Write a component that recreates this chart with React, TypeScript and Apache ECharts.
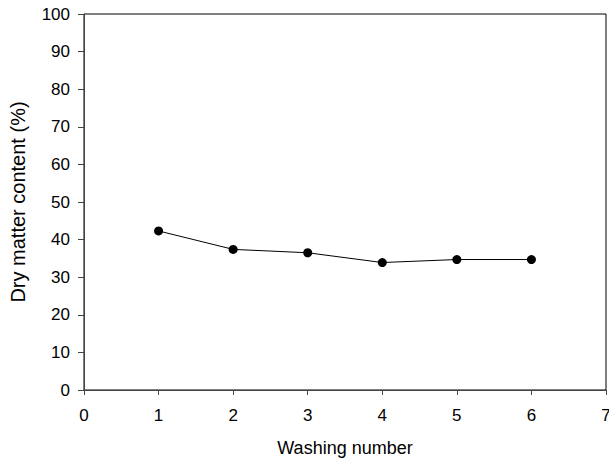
import React, { useEffect, useRef } from "react";
import * as echarts from "echarts";

const washingNumbers = [1, 2, 3, 4, 5, 6];
const dryMatter = [42.3, 37.4, 36.5, 33.9, 34.7, 34.7];
const xTicks = [0, 1, 2, 3, 4, 5, 6, 7];
const yTicks = [0, 10, 20, 30, 40, 50, 60, 70, 80, 90, 100];

export default function App() {
  const ref = useRef<HTMLDivElement>(null);
  useEffect(() => {
    document.body.style.margin = "0";
    if (!ref.current) return;
    const chart = echarts.init(ref.current, null, { renderer: "svg" });
    const font = "'Liberation Sans', Arial, sans-serif";
    chart.setOption({
      animation: false,
      backgroundColor: "#fff",
      grid: {
        left: 84,
        right: 3,
        top: 14,
        bottom: 68,
        outerBoundsMode: "none",
        containLabel: false,
        show: true,
        borderColor: "#000",
        borderWidth: 1,
        backgroundColor: "transparent",
      },
      xAxis: {
        type: "value",
        min: xTicks[0],
        max: xTicks[xTicks.length - 1],
        interval: 1,
        name: "Washing number",
        nameLocation: "middle",
        nameGap: 49,
        nameTextStyle: { fontFamily: font, fontSize: 18, color: "#000" },
        axisLine: { show: true, lineStyle: { color: "#444", width: 1 } },
        axisTick: { show: true, inside: false, length: 5, lineStyle: { color: "#444" } },
        axisLabel: { fontFamily: font, fontSize: 17, color: "#000", margin: 17 },
        splitLine: { show: false },
      },
      yAxis: {
        type: "value",
        min: yTicks[0],
        max: yTicks[yTicks.length - 1],
        interval: 10,
        name: "Dry matter content (%)",
        nameLocation: "middle",
        nameGap: 56,
        nameTextStyle: { fontFamily: font, fontSize: 20, color: "#000" },
        axisLine: { show: true, lineStyle: { color: "#444", width: 1 } },
        axisTick: { show: true, inside: false, length: 6, lineStyle: { color: "#444" } },
        axisLabel: { fontFamily: font, fontSize: 17, color: "#000", margin: 14 },
        splitLine: { show: false },
      },
      series: [
        {
          type: "line",
          data: washingNumbers.map((x, i) => [x, dryMatter[i]]),
          symbol: "circle",
          symbolSize: 9,
          itemStyle: { color: "#000" },
          lineStyle: { color: "#000", width: 1 },
        },
      ],
    });
    return () => chart.dispose();
  }, []);
  return <div ref={ref} style={{ width: 609, height: 458 }} />;
}
